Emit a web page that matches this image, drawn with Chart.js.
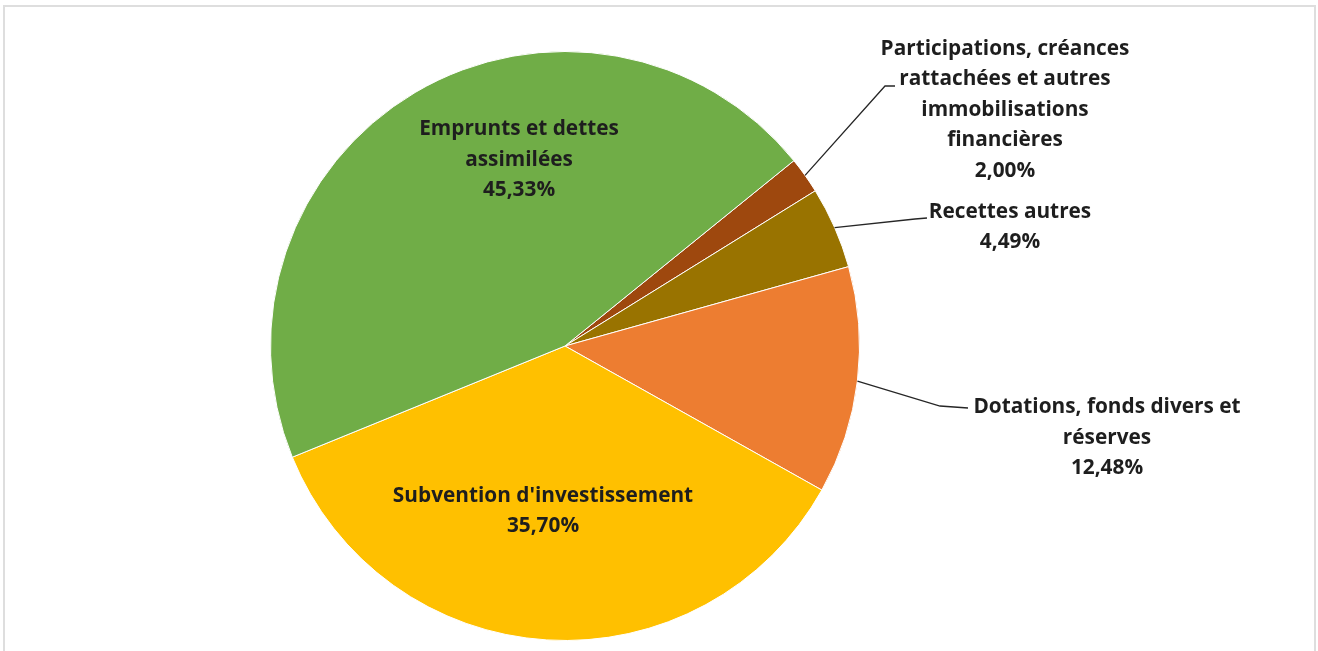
<!DOCTYPE html>
<html>
<head>
<meta charset="utf-8">
<script src="https://cdn.jsdelivr.net/npm/chart.js@4/dist/chart.umd.min.js"></script>
<style>
  html, body { margin: 0; padding: 0; background: #fff; }
  #wrap { width: 1318px; height: 651px; position: relative; }
</style>
</head>
<body>
<div id="wrap"><canvas id="plot1" width="1318" height="651"></canvas></div>
<script>
// catégories (les retours à la ligne suivent l'étiquette d'origine)
const categories = [
  'Participations, créances\nrattachées et autres\nimmobilisations\nfinancières',
  'Recettes autres',
  'Dotations, fonds divers et\nréserves',
  "Subvention d'investissement",
  'Emprunts et dettes\nassimilées'
];
// parts en %
const values = [2.00, 4.49, 12.48, 35.70, 45.33];

const colors = ['#9E480E', '#997300', '#ED7D31', '#FFC000', '#70AD47'];

// placement des étiquettes, décalages par rapport au centre du camembert
const labelPos = [
  { at: [440, -236], elbow: [320, -260], end: [330, -260] },
  { at: [445, -119], elbow: [350, -127], end: [362, -128] },
  { at: [542, 92],   elbow: [375, 60],   end: [403, 62] },
  { at: [-22, 165] },
  { at: [-46, -186] }
];

const fmt = v => v.toFixed(2).replace('.', ',') + '%';

const LINE_H = 30.5;
const FONT = 'bold 20.8px "Open Sans", Lato, sans-serif';

let etiquettes = {
  id: 'etiquettes',
  beforeDraw(chart) {
    let ctx = chart.ctx;
    ctx.save();
    ctx.strokeStyle = '#dedede';
    ctx.lineWidth = 2;
    ctx.strokeRect(4, 6, 1311, 700);
    ctx.restore();
  },
  afterDatasetsDraw(chart) {
    let ctx = chart.ctx;
    let meta = chart.getDatasetMeta(0);
    ctx.save();
    meta.data.forEach((arc, i) => {
      let p = arc.getProps(['x', 'y', 'startAngle', 'endAngle', 'outerRadius'], true);
      let pos = labelPos[i];
      // trait de rappel
      if (pos.elbow) {
        let mid = (p.startAngle + p.endAngle) / 2;
        let sx = p.x + Math.cos(mid) * p.outerRadius;
        let sy = p.y + Math.sin(mid) * p.outerRadius;
        ctx.beginPath();
        ctx.moveTo(sx, sy);
        ctx.lineTo(p.x + pos.elbow[0], p.y + pos.elbow[1]);
        ctx.lineTo(p.x + pos.end[0], p.y + pos.end[1]);
        ctx.strokeStyle = '#262626';
        ctx.lineWidth = 1.3;
        ctx.stroke();
      }
      let lines = categories[i].split('\n').concat([fmt(values[i])]);
      let cx = p.x + pos.at[0];
      let cy = p.y + pos.at[1] - (lines.length - 1) * LINE_H / 2;
      ctx.font = FONT;
      ctx.fillStyle = '#1e1e1e';
      ctx.textAlign = 'center';
      ctx.textBaseline = 'middle';
      lines.forEach((t, k) => ctx.fillText(t, cx, cy + k * LINE_H));
    });
    ctx.restore();
  }
};

let config = {
  type: 'pie',
  data: {
    labels: categories,
    datasets: [{
      data: values,
      backgroundColor: colors,
      borderColor: '#ffffff',
      borderWidth: 1
    }]
  },
  options: {
    responsive: false,
    animation: false,
    rotation: 51,
    layout: { padding: { left: 270, right: 458, top: 51, bottom: 10 } },
    plugins: {
      legend: { display: false },
      tooltip: { enabled: false }
    }
  },
  plugins: [etiquettes]
};

let chart1 = new Chart(document.getElementById('plot1'), config);
</script>
</body>
</html>
